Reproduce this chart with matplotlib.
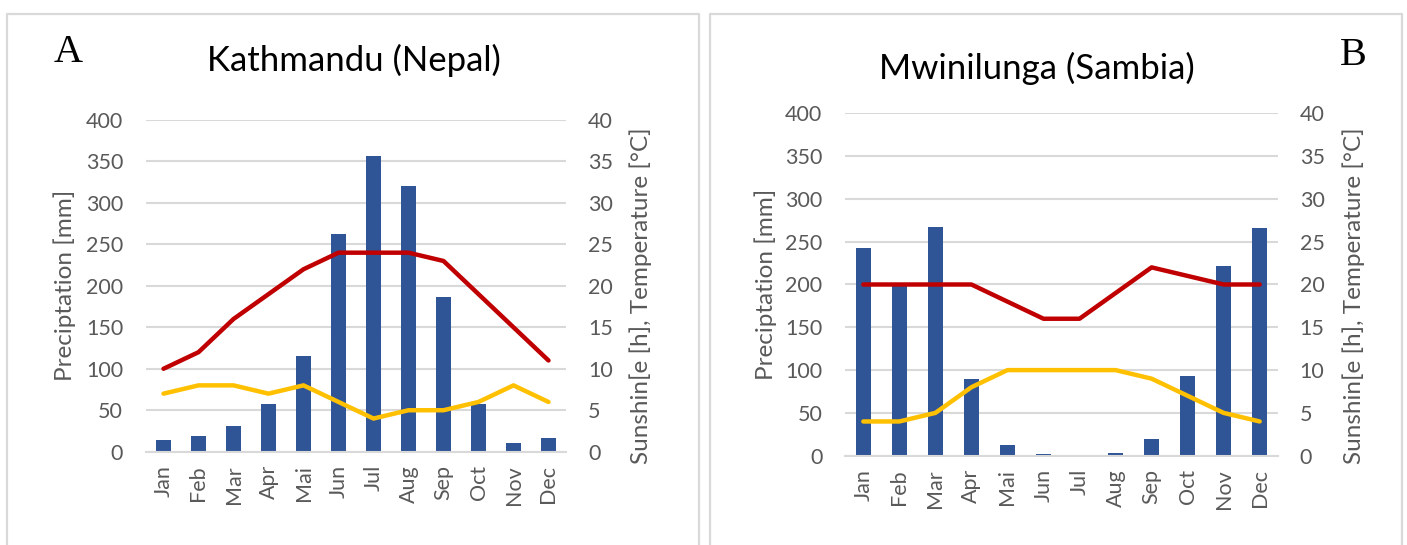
import matplotlib
matplotlib.use("Agg")
import matplotlib.pyplot as plt
from matplotlib.lines import Line2D

plt.rcParams['font.family'] = ['Lato', 'DejaVu Sans']

months = ["Jan", "Feb", "Mar", "Apr", "Mai", "Jun", "Jul", "Aug", "Sep", "Oct", "Nov", "Dec"]

# Kathmandu (Nepal)
ktm_precip = [14, 19, 31, 57, 116, 263, 357, 320, 187, 57, 10, 16]
ktm_temp = [10, 12, 16, 19, 22, 24, 24, 24, 23, 19, 15, 11]
ktm_sun = [7, 8, 8, 7, 8, 6, 4, 5, 5, 6, 8, 6]

# Mwinilunga (Sambia)
mwi_precip = [243, 198, 267, 90, 12, 2, 0, 3.5, 20, 93, 222, 266]
mwi_temp = [20, 20, 20, 20, 18, 16, 16, 19, 22, 21, 20, 20]
mwi_sun = [4, 4, 5, 8, 10, 10, 10, 10, 9, 7, 5, 4]

precip_ticks = list(range(0, 401, 50))
right_ticks = list(range(0, 41, 5))

BAR = "#2F5597"
TEMP = "#C00000"
SUN = "#FFC000"
TXT = "#595959"
GRID = "#D9D9D9"

TICK_FS = 15.5
LABEL_FS = 17.5
TITLE_FS = 25
LETTER_FS = 29
LINE_W = 3.2

W, H = 1407, 545
fig = plt.figure(figsize=(W / 100, H / 100), dpi=100)
fig.patch.set_facecolor("white")


def px_rect(x0, y0, x1, y1):
    """Convert a pixel box (top-left origin) to figure fractions."""
    return [x0 / W, 1 - y1 / H, (x1 - x0) / W, (y1 - y0) / H]


def panel(box, precip, temp, sun, title, title_xy, letter, letter_xy,
          ylab_x, ylab2_x, ylab2_y):
    ax = fig.add_axes(px_rect(*box))
    x = list(range(len(months)))
    ax.bar(x, precip, width=0.43, color=BAR, zorder=2)
    ax.set_xlim(-0.5, len(months) - 0.5)
    ax.set_ylim(0, 400)
    ax.set_yticks(precip_ticks)
    ax.set_xticks(x)
    ax.set_xticklabels(months, rotation=90)
    ax.grid(axis="y", color=GRID, linewidth=1.5, zorder=0)
    ax.set_axisbelow(True)
    for s in ("top", "right", "left"):
        ax.spines[s].set_visible(False)
    ax.spines["bottom"].set_color(GRID)
    ax.spines["bottom"].set_linewidth(1.5)
    ax.tick_params(axis="both", length=0, labelsize=TICK_FS, colors=TXT)
    ax.tick_params(axis="y", pad=16.5)
    ax.tick_params(axis="x", pad=9.5)

    ax2 = ax.twinx()
    ax2.set_ylim(0, 40)
    ax2.set_yticks(right_ticks)
    for s in ax2.spines.values():
        s.set_visible(False)
    ax2.tick_params(axis="y", length=0, labelsize=TICK_FS, colors=TXT, pad=15.8)
    ax2.plot(x, temp, color=TEMP, linewidth=LINE_W, solid_capstyle="round",
             solid_joinstyle="round", zorder=3)
    ax2.plot(x, sun, color=SUN, linewidth=LINE_W, solid_capstyle="round",
             solid_joinstyle="round", zorder=3)

    fig.text(title_xy[0] / W, 1 - title_xy[1] / H, title, fontsize=TITLE_FS,
             color="black", ha="center", va="center")
    fig.text(letter_xy[0] / W, 1 - letter_xy[1] / H, letter, fontsize=LETTER_FS,
             family="Liberation Serif", color="black", ha="center", va="center")
    cy = 1 - (box[1] + box[3]) / 2 / H
    fig.text(ylab_x / W, cy, "Preciptation [mm]", rotation=90, fontsize=LABEL_FS,
             color=TXT, ha="center", va="center")
    fig.text(ylab2_x / W, 1 - ylab2_y / H, "Sunshin[e [h], Temperature [°C]",
             rotation=90, fontsize=LABEL_FS, color=TXT, ha="center", va="center")
    return ax


panel((146, 120, 566, 451.7), ktm_precip, ktm_temp, ktm_sun,
      "Kathmandu (Nepal)", (354, 60), "A", (68, 53), 65, 641, 296)
panel((845.3, 113.3, 1277.7, 455.7), mwi_precip, mwi_temp, mwi_sun,
      "Mwinilunga (Sambia)", (1037, 68), "B", (1353, 55), 766, 1354, 296)

# panel frames (open at the bottom edge)
for x0, x1 in ((7, 699), (709.5, 1402)):
    xs = [x0 / W, x0 / W, x1 / W, x1 / W]
    ys = [0, 1 - 14 / H, 1 - 14 / H, 0]
    fig.add_artist(Line2D(xs, ys, color=GRID, linewidth=1.6,
                          transform=fig.transFigure))

fig.savefig("out.png", dpi=100, facecolor="white")
